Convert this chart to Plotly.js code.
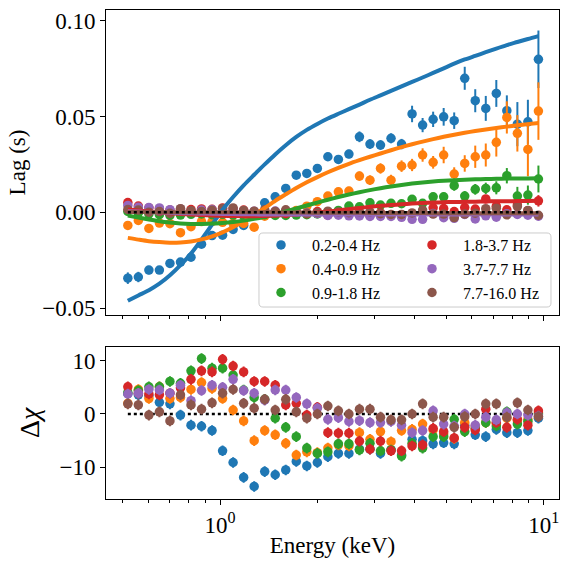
<!DOCTYPE html>
<html>
<head>
<meta charset="utf-8">
<script src="https://cdn.plot.ly/plotly-3.0.1.min.js"></script>
<style>
  html, body { margin: 0; padding: 0; background: #fff; }
  #chart { width: 569px; height: 569px; }
</style>
</head>
<body>
<div id="chart"></div>
<script>
// Energy bin centres (keV)
const energy = [0.5191, 0.5594, 0.6030, 0.6498, 0.7004, 0.7549, 0.8136, 0.8768, 0.9450, 1.0185,
  1.0977, 1.1831, 1.2751, 1.3743, 1.4811, 1.5963, 1.7205, 1.8543, 1.9985, 2.1539,
  2.3214, 2.5019, 2.6965, 2.9062, 3.1322, 3.3758, 3.6383, 3.9212, 4.2262, 4.5548,
  4.9091, 5.2908, 5.7023, 6.1457, 6.6237, 7.1388, 7.6940, 8.2923, 8.9372, 9.6322];

// Frequency bands
const bandNames = ['0.2-0.4 Hz', '0.4-0.9 Hz', '0.9-1.8 Hz', '1.8-3.7 Hz', '3.7-7.7 Hz', '7.7-16.0 Hz'];

// Measured lags (s) and 1-sigma errors per band
const lagBlue = [-0.0343,-0.0337,-0.0301,-0.0301,-0.0266,-0.0259,-0.0234,-0.0166,-0.0121,-0.0119,-0.0089,-0.0068,-0.0010,0.0050,0.0081,0.0125,0.0194,0.0203,0.0229,0.0290,0.0276,0.0304,0.0394,0.0356,0.0351,0.0386,0.0356,0.0513,0.0455,0.0485,0.0498,0.0478,0.0699,0.0582,0.0542,0.0620,0.0530,0.0460,0.0472,0.0798];
const errBlue = [0.0030,0.0027,0.0022,0.0020,0.0018,0.0016,0.0015,0.0014,0.0014,0.0014,0.0014,0.0014,0.0014,0.0015,0.0015,0.0016,0.0017,0.0018,0.0019,0.0020,0.0021,0.0022,0.0028,0.0025,0.0025,0.0026,0.0027,0.0043,0.0037,0.0040,0.0046,0.0043,0.0060,0.0060,0.0065,0.0070,0.0080,0.0115,0.0115,0.0150];
const lagOrange = [-0.0068,-0.0042,-0.0084,-0.0056,-0.0059,-0.0106,-0.0075,-0.0048,-0.0048,-0.0052,-0.0057,-0.0058,-0.0077,-0.0020,-0.0002,0.0005,0.0010,0.0032,0.0056,0.0085,0.0107,0.0111,0.0189,0.0168,0.0229,0.0168,0.0241,0.0247,0.0299,0.0261,0.0299,0.0200,0.0255,0.0290,0.0299,0.0365,0.0495,0.0412,0.0328,0.0528];
const errOrange = [0.0022,0.0020,0.0018,0.0016,0.0015,0.0014,0.0013,0.0013,0.0013,0.0013,0.0013,0.0013,0.0013,0.0015,0.0016,0.0017,0.0018,0.0018,0.0019,0.0020,0.0021,0.0022,0.0024,0.0025,0.0027,0.0028,0.0030,0.0032,0.0035,0.0033,0.0043,0.0035,0.0043,0.0058,0.0060,0.0074,0.0084,0.0095,0.0140,0.0150];
const lagGreen = [0.0005,-0.0003,-0.0008,-0.0012,-0.0016,-0.0014,-0.0010,-0.0008,-0.0012,-0.0010,-0.0014,-0.0018,-0.0015,-0.0012,-0.0016,-0.0016,-0.0014,-0.0012,-0.0008,0.0002,0.0010,0.0033,0.0029,0.0050,0.0038,0.0047,0.0045,0.0068,0.0047,0.0081,0.0081,0.0139,0.0085,0.0120,0.0125,0.0128,0.0191,0.0085,0.0090,0.0174];
const errGreen = [0.0006,0.0006,0.0005,0.0005,0.0005,0.0005,0.0005,0.0005,0.0005,0.0005,0.0005,0.0005,0.0006,0.0006,0.0006,0.0007,0.0007,0.0008,0.0008,0.0009,0.0010,0.0011,0.0012,0.0013,0.0014,0.0015,0.0016,0.0018,0.0019,0.0021,0.0022,0.0026,0.0026,0.0028,0.0030,0.0034,0.0040,0.0048,0.0050,0.0070];
const lagRed = [0.0051,0.0033,0.0024,0.0018,0.0012,0.0012,0.0015,0.0018,0.0016,0.0023,0.0017,0.0012,0.0004,0.0005,0.0005,-0.0006,0.0000,-0.0007,0.0004,-0.0015,-0.0007,-0.0005,-0.0008,-0.0017,-0.0002,-0.0017,-0.0013,-0.0008,-0.0003,0.0024,0.0020,0.0004,0.0025,0.0017,0.0070,0.0032,0.0013,0.0039,0.0009,0.0060];
const errRed = [0.0007,0.0006,0.0005,0.0005,0.0004,0.0004,0.0004,0.0004,0.0004,0.0004,0.0004,0.0004,0.0004,0.0004,0.0004,0.0005,0.0005,0.0005,0.0005,0.0005,0.0005,0.0006,0.0006,0.0007,0.0007,0.0008,0.0008,0.0009,0.0009,0.0010,0.0010,0.0011,0.0012,0.0013,0.0014,0.0016,0.0018,0.0020,0.0024,0.0030];
const lagPurple = [0.0036,0.0027,0.0025,0.0023,0.0014,0.0018,0.0005,0.0012,0.0015,0.0012,0.0017,0.0008,0.0006,-0.0001,0.0007,0.0007,0.0001,-0.0003,-0.0006,-0.0016,-0.0015,-0.0018,-0.0019,-0.0021,-0.0021,-0.0021,-0.0026,-0.0036,-0.0036,-0.0006,-0.0028,-0.0031,-0.0011,-0.0034,-0.0018,-0.0025,-0.0007,-0.0011,-0.0015,-0.0020];
const errPurple = [0.0008,0.0006,0.0005,0.0005,0.0004,0.0004,0.0004,0.0004,0.0004,0.0004,0.0004,0.0004,0.0004,0.0004,0.0004,0.0004,0.0004,0.0004,0.0005,0.0005,0.0005,0.0005,0.0006,0.0006,0.0006,0.0007,0.0007,0.0007,0.0008,0.0008,0.0009,0.0009,0.0010,0.0011,0.0012,0.0013,0.0015,0.0016,0.0018,0.0022];
const lagBrown = [0.0015,0.0012,0.0001,0.0004,-0.0005,0.0019,0.0009,0.0005,0.0011,0.0020,0.0023,0.0010,0.0006,0.0014,0.0004,0.0013,0.0001,-0.0005,-0.0002,0.0006,0.0002,-0.0002,0.0003,0.0002,-0.0007,-0.0011,-0.0011,-0.0003,0.0012,-0.0009,-0.0009,-0.0027,-0.0009,-0.0004,0.0019,0.0021,-0.0013,0.0030,0.0010,-0.0015];
const errBrown = [0.0007,0.0006,0.0005,0.0005,0.0005,0.0005,0.0005,0.0005,0.0005,0.0005,0.0005,0.0005,0.0005,0.0005,0.0005,0.0005,0.0005,0.0005,0.0005,0.0005,0.0006,0.0006,0.0006,0.0006,0.0007,0.0007,0.0007,0.0008,0.0008,0.0008,0.0009,0.0009,0.0010,0.0011,0.0012,0.0013,0.0015,0.0016,0.0018,0.0022];

// Best-fit model lags (s) per band
const modelBlue = [-0.0461,-0.0433,-0.0406,-0.0372,-0.0328,-0.0275,-0.0215,-0.0142,-0.0064,0.0014,0.0080,0.0141,0.0196,0.0250,0.0302,0.0350,0.0393,0.0430,0.0461,0.0489,0.0514,0.0538,0.0562,0.0587,0.0610,0.0633,0.0657,0.0680,0.0703,0.0727,0.0751,0.0775,0.0797,0.0816,0.0835,0.0854,0.0872,0.0888,0.0904,0.0919];
const modelOrange = [-0.0133,-0.0142,-0.0150,-0.0155,-0.0158,-0.0157,-0.0152,-0.0141,-0.0125,-0.0104,-0.0078,-0.0047,-0.0013,0.0023,0.0060,0.0094,0.0127,0.0157,0.0184,0.0209,0.0232,0.0253,0.0272,0.0290,0.0307,0.0324,0.0340,0.0355,0.0369,0.0382,0.0394,0.0405,0.0415,0.0424,0.0432,0.0440,0.0447,0.0454,0.0460,0.0466];
const modelGreen = [-0.0017,-0.0027,-0.0037,-0.0046,-0.0053,-0.0058,-0.0060,-0.0060,-0.0058,-0.0055,-0.0050,-0.0043,-0.0034,-0.0023,-0.0010,0.0005,0.0020,0.0036,0.0051,0.0066,0.0080,0.0093,0.0105,0.0116,0.0126,0.0135,0.0143,0.0150,0.0156,0.0161,0.0165,0.0168,0.0170,0.0172,0.0174,0.0175,0.0176,0.0177,0.0177,0.0178];
const modelRed = [0.0015,0.0010,0.0005,0.0000,-0.0004,-0.0008,-0.0011,-0.0014,-0.0016,-0.0018,-0.0019,-0.0020,-0.0020,-0.0019,-0.0017,-0.0014,-0.0010,-0.0006,-0.0001,0.0004,0.0010,0.0017,0.0023,0.0029,0.0034,0.0038,0.0042,0.0046,0.0049,0.0051,0.0053,0.0054,0.0055,0.0056,0.0057,0.0058,0.0058,0.0059,0.0059,0.0060];
const modelPurple = [0.0006,0.0004,0.0002,0.0000,-0.0002,-0.0004,-0.0005,-0.0006,-0.0007,-0.0008,-0.0009,-0.0010,-0.0010,-0.0011,-0.0011,-0.0011,-0.0011,-0.0011,-0.0011,-0.0011,-0.0011,-0.0011,-0.0011,-0.0011,-0.0011,-0.0011,-0.0011,-0.0011,-0.0011,-0.0011,-0.0011,-0.0011,-0.0011,-0.0011,-0.0011,-0.0011,-0.0011,-0.0011,-0.0011,-0.0011];
const modelBrown = [0.0002,0.0002,0.0002,0.0002,0.0001,0.0001,0,0,0,0,0,0,0,0,0,-0.0001,-0.0001,-0.0001,-0.0002,-0.0002,-0.0002,-0.0002,-0.0002,-0.0003,-0.0003,-0.0003,-0.0003,-0.0003,-0.0003,-0.0004,-0.0004,-0.0004,-0.0004,-0.0004,-0.0004,-0.0004,-0.0004,-0.0004,-0.0004,-0.0004];

// Residuals (data - model) / error
const resBlue = [3.8,3.6,3.4,2.2,1.9,-0.2,-2.1,-2.3,-3.1,-6.9,-9.1,-11.9,-13.6,-10.8,-11.4,-10.5,-8.9,-9.75,-9.1,-8.0,-7.4,-7.4,-6.6,-6.6,-7.4,-6.75,-7.7,-4.75,-5.0,-5.6,-5.4,-5.6,-2.1,-3.9,-4.25,-2.9,-3.5,-3.5,-3.1,-0.8];
const resOrange = [2.0,4.6,2.9,5.1,2.9,3.1,4.6,5.9,4.8,2.9,0.75,-1.3,-5.0,-3.1,-3.9,-5.5,-7.7,-7.1,-7.25,-6.4,-5.8,-6.0,-3.5,-4.75,-3.3,-5.2,-3.1,-2.9,-1.9,-3.0,-3.75,-4.6,-1.6,-2.25,-1.6,-1.75,-0.8,-1.25,-1.0,0.25];
const resGreen = [4.0,4.4,5.1,5.1,6.1,5.75,8.1,10.4,8.6,8.6,7.3,4.5,3.1,2.75,-0.8,-2.5,-4.25,-6.4,-7.4,-7.1,-5.6,-5.6,-6.75,-5.5,-6.9,-6.75,-7.9,-5.5,-6.4,-4.25,-4.25,-1.0,-3.3,-2.7,-1.6,-2.25,0.4,-1.9,-1.4,0.0];
const resRed = [5.1,3.9,3.75,3.6,3.9,4.9,6.5,8.1,7.9,10.25,9.0,7.9,6.1,6.1,5.4,1.7,2.0,-0.2,1.25,-3.5,-3.6,-3.6,-5.1,-6.6,-5.1,-6.9,-6.9,-6.0,-5.8,-2.7,-3.3,-4.5,-2.5,-3.0,0.9,-1.6,-2.5,-1.0,-2.1,0.6];
const resPurple = [3.75,3.9,4.6,4.5,3.9,5.4,2.5,4.4,5.4,5.0,6.5,4.4,3.9,2.6,4.5,4.5,3.1,1.9,1.1,-1.0,-0.7,-1.4,-1.25,-1.6,-1.6,-1.4,-2.1,-3.5,-3.1,0.6,-1.9,-2.25,0.0,-2.1,-0.6,-1.1,0.25,0.0,-0.2,-0.4];
const resBrown = [1.9,1.7,-0.2,0.4,-1.3,3.6,1.7,0.9,2.1,3.9,4.6,2.0,1.1,2.75,0.75,2.75,0.4,-0.8,0.0,1.5,0.6,0.0,0.9,0.9,-0.6,-1.1,-1.1,0.0,1.9,-0.6,-0.6,-2.5,-0.5,0.0,1.9,1.9,-0.6,2.1,0.75,-0.5];

// Axis tick labels
const majorTicks = [1, 10];
const majorTickText = ['10<sup>0</sup>', '10<sup>1</sup>'];
const minorTicks = [0.5, 0.6, 0.7, 0.8, 0.9, 2, 3, 4, 5, 6, 7, 8, 9];
const lagTicks = [-0.05, 0, 0.05, 0.1];
const chiTicks = [-10, 0, 10];
const zeroLevel = [0, 0];

const colors = ['#1f77b4', '#ff7f0e', '#2ca02c', '#d62728', '#9467bd', '#8c564b'];
const lags = [lagBlue, lagOrange, lagGreen, lagRed, lagPurple, lagBrown];
const errs = [errBlue, errOrange, errGreen, errRed, errPurple, errBrown];
const models = [modelBlue, modelOrange, modelGreen, modelRed, modelPurple, modelBrown];
const resids = [resBlue, resOrange, resGreen, resRed, resPurple, resBrown];
// two legend columns: first three bands left, last three right
const legendColumn = ['legend', 'legend', 'legend', 'legend2', 'legend2', 'legend2'];

const FONT = 'Liberation Serif';
const traces = [];

// Upper panel: lag spectra with error bars
lags.forEach((lag, k) => {
  traces.push({
    x: energy, y: lag, xaxis: 'x2', yaxis: 'y2',
    type: 'scatter', mode: 'markers', name: bandNames[k],
    legend: legendColumn[k],
    marker: { color: colors[k], size: 9.5, line: { width: 0 } },
    error_y: { type: 'data', array: errs[k], visible: true, color: colors[k], thickness: 2, width: 0 }
  });
});
// Upper panel: model curves
models.forEach((m, k) => {
  traces.push({
    x: energy, y: m, xaxis: 'x2', yaxis: 'y2',
    type: 'scatter', mode: 'lines', showlegend: false,
    line: { color: colors[k], width: 4, shape: 'spline', smoothing: 0.8 }
  });
});
traces.push({
  x: [energy[0], energy[energy.length - 1]], y: zeroLevel, xaxis: 'x2', yaxis: 'y2',
  type: 'scatter', mode: 'lines', showlegend: false,
  line: { color: 'black', width: 2.5, dash: 'dot' }
});

// Lower panel: residuals
traces.push({
  x: [energy[0], energy[energy.length - 1]], y: zeroLevel, xaxis: 'x', yaxis: 'y',
  type: 'scatter', mode: 'lines', showlegend: false,
  line: { color: 'black', width: 2.5, dash: 'dot' }
});
resids.forEach((r, k) => {
  traces.push({
    x: energy, y: r, xaxis: 'x', yaxis: 'y',
    type: 'scatter', mode: 'markers', showlegend: false,
    marker: { color: colors[k], size: 9.5, line: { width: 0 } },
    error_y: { type: 'constant', value: 1, visible: true, color: colors[k], thickness: 2, width: 0 }
  });
});

const xCommon = {
  type: 'log', range: [-0.3522, 1.0473], automargin: false,
  tickmode: 'array', tickvals: majorTicks, ticktext: majorTickText,
  ticks: 'outside', ticklen: 5, tickwidth: 1, tickcolor: 'black',
  showline: true, linecolor: 'black', linewidth: 1, mirror: true,
  showgrid: false, zeroline: false,
  tickfont: { family: FONT, size: 23, color: 'black' },
  minor: { tickmode: 'array', tickvals: minorTicks, ticks: 'outside', ticklen: 3, tickwidth: 1, tickcolor: 'black', showgrid: false }
};
const yCommon = {
  automargin: false,
  ticks: 'outside', ticklen: 5, tickwidth: 1, tickcolor: 'black',
  showline: true, linecolor: 'black', linewidth: 1, mirror: true,
  showgrid: false, zeroline: false,
  tickfont: { family: FONT, size: 23, color: 'black' }
};
const legendCommon = {
  y: 0.5542, xanchor: 'left', yanchor: 'top', orientation: 'v',
  itemwidth: 52, traceorder: 'normal',
  bgcolor: 'rgba(0,0,0,0)', borderwidth: 0,
  font: { family: FONT, size: 16, color: 'black' }
};

// Frame behind both legend columns (paper coordinates, rounded corners)
const fx0 = 0.3377, fx1 = 0.9823, fy0 = 0.3926, fy1 = 0.5440, rx = 0.0088, ry = 0.0082;
const framePath = `M ${fx0 + rx},${fy0} L ${fx1 - rx},${fy0} Q ${fx1},${fy0} ${fx1},${fy0 + ry} ` +
  `L ${fx1},${fy1 - ry} Q ${fx1},${fy1} ${fx1 - rx},${fy1} L ${fx0 + rx},${fy1} ` +
  `Q ${fx0},${fy1} ${fx0},${fy1 - ry} L ${fx0},${fy0 + ry} Q ${fx0},${fy0} ${fx0 + rx},${fy0} Z`;

const layout = {
  width: 569, height: 569,
  margin: { l: 106, r: 10, t: 10, b: 70, autoexpand: false },
  paper_bgcolor: 'white', plot_bgcolor: 'white',
  font: { family: FONT, size: 23, color: 'black' },
  showlegend: true,
  legend: Object.assign({}, legendCommon, { x: 0.3179 }),
  legend2: Object.assign({}, legendCommon, { x: 0.6512 }),
  shapes: [{
    type: 'path', xref: 'paper', yref: 'paper', path: framePath, layer: 'above',
    fillcolor: 'rgba(255,255,255,0.8)', line: { color: '#cccccc', width: 1 }
  }],
  xaxis: Object.assign({}, xCommon, {
    anchor: 'y', domain: [0, 1],
    title: { text: 'Energy (keV)', font: { family: FONT, size: 23 }, standoff: 0 }
  }),
  xaxis2: Object.assign({}, xCommon, { anchor: 'y2', matches: 'x', showticklabels: false }),
  yaxis: Object.assign({}, yCommon, {
    domain: [0, 0.3115], range: [-15.95, 12.63],
    tickmode: 'array', tickvals: chiTicks,
    title: { text: 'Δ<i>χ</i>', font: { family: FONT, size: 28 }, standoff: 11 }
  }),
  yaxis2: Object.assign({}, yCommon, {
    domain: [0.3763, 1], range: [-0.0535, 0.1055],
    tickmode: 'array', tickvals: lagTicks, tickformat: '.2f',
    title: { text: 'Lag (s)', font: { family: FONT, size: 23 }, standoff: 10 }
  }),
  hovermode: false
};

Plotly.newPlot('chart', traces, layout, { displayModeBar: false, staticPlot: true });
</script>
</body>
</html>
